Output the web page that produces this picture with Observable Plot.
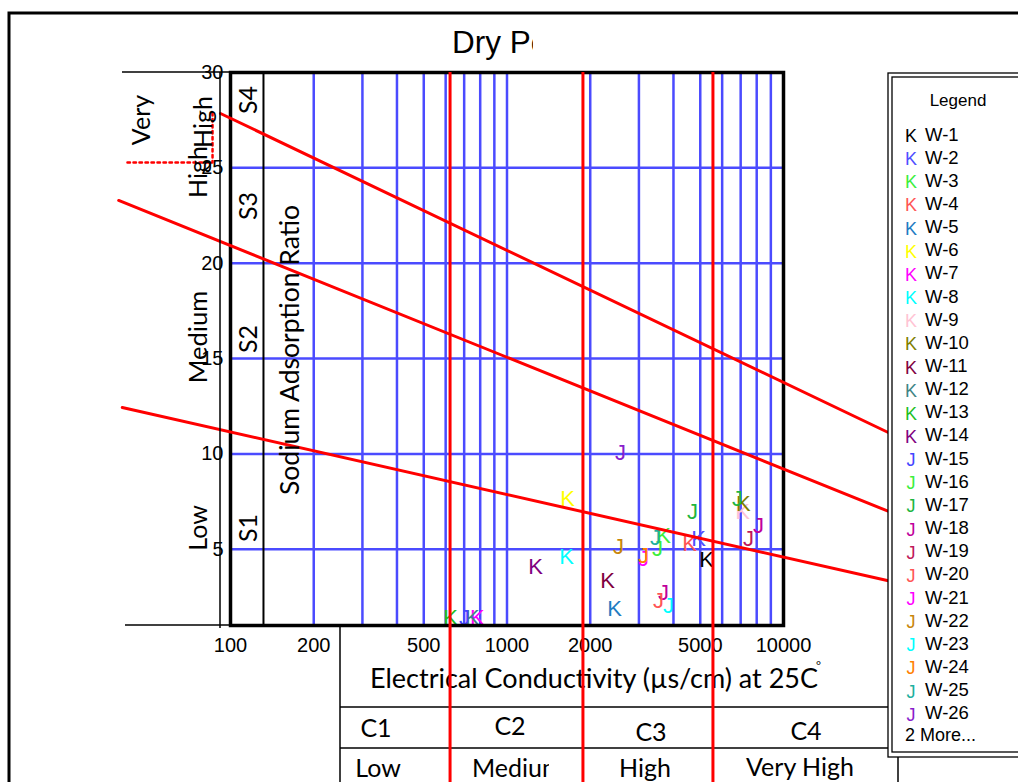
<!DOCTYPE html>
<html><head><meta charset="utf-8">
<script src="https://cdn.jsdelivr.net/npm/d3@7"></script>
<script src="https://cdn.jsdelivr.net/npm/@observablehq/plot@0.6"></script>
<style>
body{margin:0;background:#fff}
#chart{position:relative;width:1018px;height:782px;overflow:hidden;background:#fff}
</style>
</head><body><div id="chart"></div>
<script>
// ---------- data ----------
const wells = ["W-1","W-2","W-3","W-4","W-5","W-6","W-7","W-8","W-9","W-10","W-11","W-12","W-13","W-14",
  "W-15","W-16","W-17","W-18","W-19","W-20","W-21","W-22","W-23","W-24","W-25","W-26","W-27","W-28"];
const markers = ["K","K","K","K","K","K","K","K","K","K","K","K","K","K",
  "J","J","J","J","J","J","J","J","J","J","J","J","J","J"];
const colors = ["#000000","#4f4fff","#3cee3c","#ff5555","#1f7cc2","#ffff00","#ff00ff","#00ffff","#ffc4d4","#808000",
  "#800040","#3f8585","#1fbf1f","#800080","#4545ff","#3cee3c","#1fb63f","#c0009c","#c0185a","#ff5555",
  "#ff00ff","#c8860a","#00ffff","#ff8000","#1fb0a0","#8a1ecc","#1fb63f","#c0009c"];
const ecValues = [5267,4928,3683,4574,2449,1655,781,1641,7113,7160,2310,750,625,1268,
  702,3499,4690,3680,7464,3532,3117,2530,3837,3117,3443,2574,6817,8121];
const sarValues = [4.46,5.56,5.72,5.30,1.89,7.66,1.37,4.57,6.93,7.40,3.31,1.37,1.37,4.09,
  1.37,5.04,6.93,2.73,5.56,2.31,4.51,5.14,2.05,4.67,5.61,10.07,7.66,6.24];
const legendCount = 26;

const xTicks = [100,200,500,1000,2000,5000,10000];
const yTicks = [5,10,15,20,25,30];
const gridEC = [200,300,400,500,600,700,800,900,1000,2000,3000,4000,5000,6000,7000,8000,9000,10000];
const gridSAR = [5,10,15,20,25];
const ecClassBounds = [625,1890,5580];
const ecClassLabels = ["C1","C2","C3","C4"];
const ecClassNames = ["Low","Medium","High","Very High"];
const sarClassLabels = ["S1","S2","S3","S4"];
const sarClassNames = ["Low","Medium","High","High","Very"];
const sarColumnEdge = 131.6;
// sodium hazard boundary lines (EC, SAR end points)
const hazardEC = [[92,26100],[39.4,26100],[40.6,26500]];
const hazardSAR = [[27.85,10.86],[23.29,6.77],[12.43,3.2]];
const dottedEC = [42.4,86.1,86.1];
const dottedSAR = [25.28,25.28,27.9];

const points = wells.map((w,i)=>({well:w, marker:markers[i], color:colors[i], ec:ecValues[i], sar:sarValues[i]}));
const hazard = hazardEC.flatMap((xs,k)=>xs.map((x,j)=>({id:k, ec:x, sar:hazardSAR[k][j]})));
const dotted = dottedEC.map((x,i)=>({ec:x, sar:dottedSAR[i]}));

const BLUE = "#4b4bff";
const SANS = "'Liberation Sans', Arial, sans-serif";
const HUM = "Lato, 'Open Sans', sans-serif";

const chart = Plot.plot({
  width:1018, height:782,
  marginLeft:230, marginRight:235, marginTop:72, marginBottom:157,
  style:{fontFamily:SANS, background:"white", color:"black"},
  x:{type:"log", domain:[100,10000], axis:null},
  y:{domain:[1,30], axis:null},
  color:{type:"identity"},
  marks:[
    Plot.ruleX(gridEC,{stroke:BLUE, strokeWidth:2.5}),
    Plot.ruleY(gridSAR,{stroke:BLUE, strokeWidth:2.5}),
    Plot.ruleX([sarColumnEdge],{stroke:"black", strokeWidth:2}),
    Plot.text(points,{x:"ec", y:"sar", text:"marker", fill:"color", fontSize:22, fontFamily:SANS}),
    Plot.frame({stroke:"black", strokeWidth:3.5}),
    Plot.line(hazard,{x:"ec", y:"sar", z:"id", stroke:"red", strokeWidth:3}),
    Plot.line(dotted,{x:"ec", y:"sar", stroke:"red", strokeWidth:2.5, strokeDasharray:"2.5,3.5"}),
    Plot.text(xTicks,{x:d=>d, text:d=>String(d), frameAnchor:"bottom", lineAnchor:"top", dy:12, fontSize:20, fill:"black"}),
    Plot.text(yTicks,{y:d=>d, text:d=>String(d), frameAnchor:"left", textAnchor:"end", dx:-7, fontSize:20, fill:"black"})
  ]
});
document.getElementById("chart").appendChild(chart);

// ---------- decorations ----------
const svg = d3.select(chart);
const xs = v=>chart.scale("x").apply(v);
const ys = v=>chart.scale("y").apply(v);
const defs = svg.append("defs");
defs.append("clipPath").attr("id","titleClip").append("rect").attr("x",0).attr("y",0).attr("width",533).attr("height",70);
defs.append("clipPath").attr("id","medClip").append("rect").attr("x",440).attr("y",700).attr("width",109).attr("height",90);
const g = svg.append("g").attr("text-anchor","start");
const line = (x1,y1,x2,y2,w)=>g.append("line").attr("x1",x1).attr("y1",y1).attr("x2",x2).attr("y2",y2).attr("stroke","black").attr("stroke-width",w||1.5);
const txt = (x,y,t,size,font,anchor)=>g.append("text").attr("x",x).attr("y",y).attr("text-anchor",anchor||"start").attr("font-size",size).attr("font-family",font||SANS).attr("fill","black").text(t);

// outer border
g.append("path").attr("d","M9,782V13H1018").attr("fill","none").attr("stroke","black").attr("stroke-width",3);
// title
txt(452,53,"Dry Period",31.5,SANS).attr("clip-path","url(#titleClip)");
// left axis helper lines
line(220,72,220,628,1.5);
line(122,72,230,72,1.5);
line(125,625,230,625,1.5);
// rotated labels
const rot = (x,y,t,size,font)=>g.append("text").attr("transform",`translate(${x},${y}) rotate(-90)`).attr("text-anchor","middle").attr("dominant-baseline","central").attr("font-size",size).attr("font-family",font||HUM).attr("fill","black").text(t);
const sY = [528,339,206,100];
sarClassLabels.forEach((s,i)=>rot(247,sY[i],s,25));
rot(197,528,sarClassNames[0],25);
rot(197,337,sarClassNames[1],25.5);
rot(197,172,sarClassNames[2],25);
rot(202,122,sarClassNames[3],25);
rot(140,120,sarClassNames[4],25);
rot(289,350,"Sodium Adsorption Ratio",26.5);

// table under x axis
line(340,625,340,782,1.5);
line(340,707,898,707,1.5);
line(340,748,898,748,1.5);
line(898,622,898,782,1.5);
txt(370,688,"Electrical Conductivity (µs/cm) at 25C",27,HUM);
txt(816,670,"°",12,HUM);
const cX=[376,510,651,806], cY=[737,735,741,740];
ecClassLabels.forEach((c,i)=>txt(cX[i],cY[i],c,25,HUM,"middle"));
const nX=[378,472,645,800], nY=[777,777,777,776];
ecClassNames.forEach((c,i)=>{
  const t=txt(nX[i],nY[i],c,25,HUM,i==1?"start":"middle");
  if(i==1) t.attr("clip-path","url(#medClip)");
});

// red EC class lines extending through the table
ecClassBounds.forEach(v=>g.append("line").attr("x1",xs(v)).attr("x2",xs(v)).attr("y1",ys(30)).attr("y2",782).attr("stroke","red").attr("stroke-width",3));

// legend
g.append("rect").attr("x",888).attr("y",73).attr("width",200).attr("height",684).attr("fill","white").attr("stroke","black").attr("stroke-width",1.3);
g.append("rect").attr("x",892).attr("y",77).attr("width",200).attr("height",675).attr("fill","none").attr("stroke","black").attr("stroke-width",1.3);
txt(958,100,"Legend",17,SANS,"middle").attr("dominant-baseline","central");
for(let i=0;i<legendCount;i++){
  const y=134+i*23.15;
  txt(911,y+2,markers[i],18,SANS,"middle").attr("dominant-baseline","central").attr("fill",colors[i]);
  txt(925,y,wells[i],18.5,SANS,"start").attr("dominant-baseline","central");
}
txt(905,735,`${wells.length-legendCount} More...`,18,SANS,"start").attr("dominant-baseline","central");
</script>
</body></html>
